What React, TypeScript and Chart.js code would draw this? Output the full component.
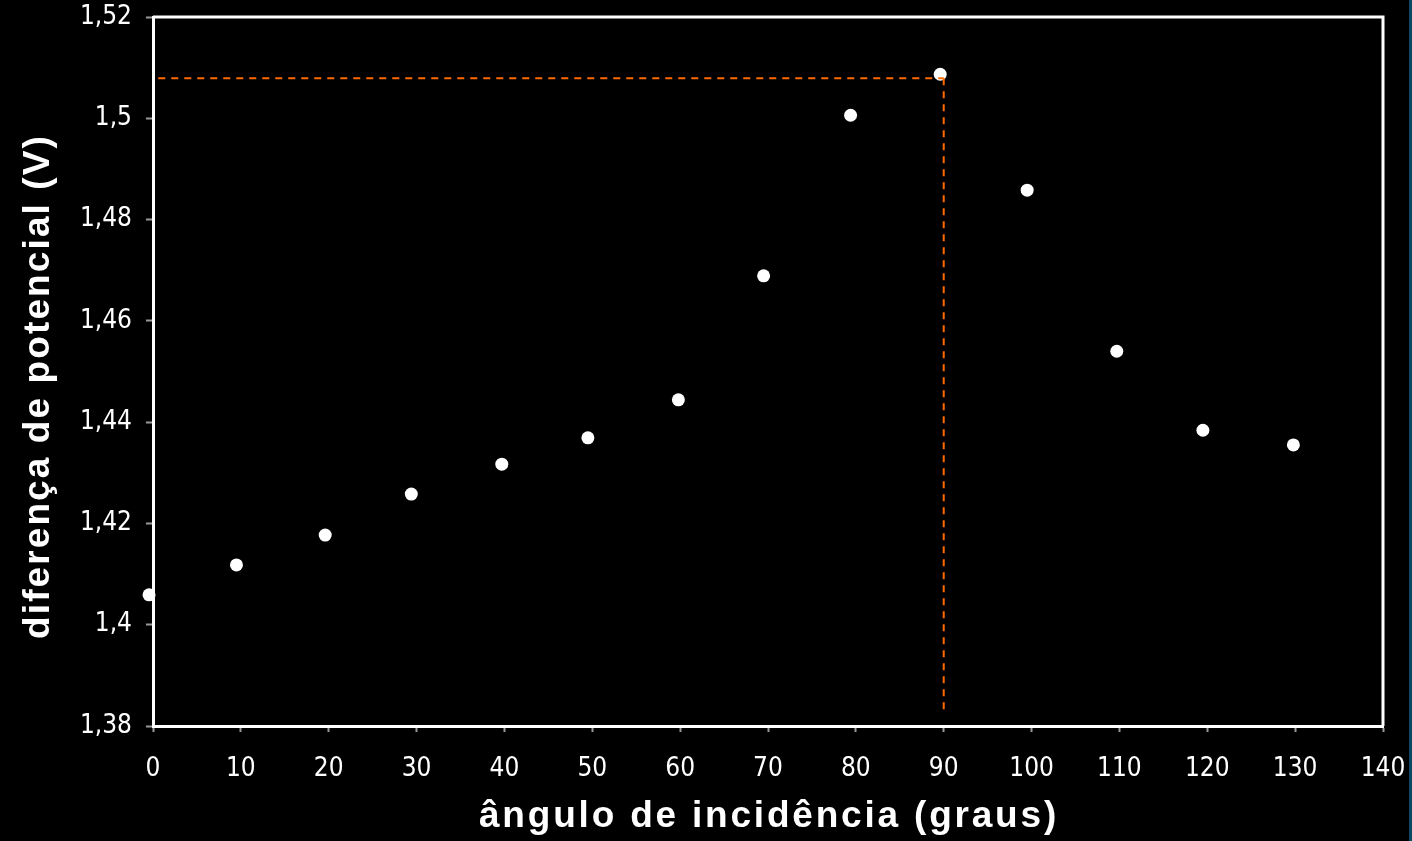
import React, { useEffect, useRef } from "react";
import { Chart, registerables } from "chart.js";

Chart.register(...registerables);

// Data
const angles: number[] = [-0.45, 9.5, 19.6, 29.4, 39.7, 49.5, 59.8, 69.5, 79.4, 89.6, 99.5, 109.7, 119.5, 129.8];
const voltages: number[] = [1.4059, 1.4118, 1.4177, 1.4258, 1.4317, 1.4369, 1.4444, 1.4689, 1.5006, 1.5087, 1.4858, 1.454, 1.4384, 1.4355];

const xTickValues: number[] = [0, 10, 20, 30, 40, 50, 60, 70, 80, 90, 100, 110, 120, 130, 140];
const yTickValues: number[] = [1.38, 1.4, 1.42, 1.44, 1.46, 1.48, 1.5, 1.52];

// Dashed guide lines (max marker)
const guideHorizontalX: number[] = [0.6, 90];
const guideHorizontalY: number[] = [1.5079, 1.5079];
const guideVerticalX: number[] = [90, 90];
const guideVerticalY: number[] = [1.5079, 1.3828];

const xTitle = "ângulo de incidência (graus)";
const yTitle = "diferença de potencial (V)";

const TICK_FONT = "'DejaVu Sans Condensed', 'DejaVu Sans', sans-serif";
const TITLE_FONT = "'Liberation Sans', Arial, sans-serif";

export default function App() {
  const canvasRef = useRef<HTMLCanvasElement | null>(null);

  useEffect(() => {
    const canvas = canvasRef.current;
    if (!canvas) return;

    const frame = {
      id: "frame",
      afterDraw(chart: any) {
        const { ctx, chartArea } = chart;
        ctx.save();
        ctx.strokeStyle = "#ffffff";
        ctx.lineWidth = 3;
        ctx.beginPath();
        ctx.moveTo(chartArea.left, chartArea.top);
        ctx.lineTo(chartArea.right, chartArea.top);
        ctx.lineTo(chartArea.right, chartArea.bottom);
        ctx.stroke();
        ctx.restore();
      },
    };

    const titles = {
      id: "spacedTitles",
      afterDraw(chart: any) {
        const { ctx, chartArea } = chart;
        ctx.save();
        ctx.fillStyle = "#ffffff";
        ctx.font = `bold 37px ${TITLE_FONT}`;
        ctx.textAlign = "center";
        ctx.textBaseline = "alphabetic";
        // x title
        try {
          (ctx as any).letterSpacing = "2.8px";
        } catch (e) {}
        ctx.fillText(xTitle, (chartArea.left + chartArea.right) / 2 + 1, 827);
        // y title
        try {
          (ctx as any).letterSpacing = "2.1px";
        } catch (e) {}
        ctx.translate(49, (chartArea.top + chartArea.bottom) / 2 + 15);
        ctx.rotate(-Math.PI / 2);
        ctx.fillText(yTitle, 0, 0);
        ctx.restore();
      },
    };

    const chart = new Chart(canvas, {
      type: "scatter",
      data: {
        datasets: [
          {
            label: "h",
            type: "line",
            data: guideHorizontalX.map((x, i) => ({ x, y: guideHorizontalY[i] })),
            borderColor: "#ff6a00",
            borderWidth: 2,
            borderDash: [7, 6],
            pointRadius: 0,
            fill: false,
          } as any,
          {
            label: "v",
            type: "line",
            data: guideVerticalX.map((x, i) => ({ x, y: guideVerticalY[i] })),
            borderColor: "#ff6a00",
            borderWidth: 2,
            borderDash: [7, 6],
            pointRadius: 0,
            fill: false,
          } as any,
          {
            label: "pts",
            data: angles.map((x, i) => ({ x, y: voltages[i] })),
            backgroundColor: "#ffffff",
            borderColor: "#ffffff",
            borderWidth: 0,
            pointRadius: 6.5,
            clip: false as any,
          },
        ],
      },
      options: {
        animation: false,
        responsive: false,
        maintainAspectRatio: false,
        layout: { padding: { top: 17, right: 29, left: 0, bottom: 0 } },
        plugins: {
          legend: { display: false },
          tooltip: { enabled: false },
        },
        scales: {
          x: {
            type: "linear",
            min: 0,
            max: 140,
            afterBuildTicks: (scale: any) => {
              scale.ticks = xTickValues.map((v) => ({ value: v }));
            },
            afterFit: (scale: any) => {
              scale.height = 115;
              scale.paddingLeft = 0;
              scale.paddingRight = 0;
              scale.paddingTop = 0;
              scale.paddingBottom = 0;
            },
            ticks: {
              color: "#ffffff",
              font: { family: TICK_FONT, size: 26 },
              padding: 22,
              maxRotation: 0,
              autoSkip: false,
              callback: (v: any) => String(v),
            },
            grid: {
              drawOnChartArea: false,
              drawTicks: true,
              tickLength: 6,
              tickColor: "#9a9a9a",
              tickWidth: 2,
            },
            border: { color: "#ffffff", width: 3 },
            title: { display: false },
          },
          y: {
            type: "linear",
            min: 1.38,
            max: 1.52,
            afterBuildTicks: (scale: any) => {
              scale.ticks = yTickValues.map((v) => ({ value: v }));
            },
            afterFit: (scale: any) => {
              scale.width = 153;
              scale.paddingLeft = 0;
              scale.paddingRight = 0;
              scale.paddingTop = 0;
              scale.paddingBottom = 0;
            },
            ticks: {
              color: "#ffffff",
              font: { family: TICK_FONT, size: 26 },
              padding: 14,
              autoSkip: false,
              callback: (v: any) => String(Number(Number(v).toFixed(2))).replace(".", ","),
            },
            grid: {
              drawOnChartArea: false,
              drawTicks: true,
              tickLength: 7,
              tickColor: "#9a9a9a",
              tickWidth: 2,
            },
            border: { color: "#ffffff", width: 3 },
            title: { display: false },
          },
        },
      },
      plugins: [frame, titles],
    });

    return () => chart.destroy();
  }, []);

  return (
    <div
      style={{
        position: "fixed",
        left: 0,
        top: 0,
        width: 1412,
        height: 841,
        background: "#000000",
        overflow: "hidden",
      }}
    >
      <canvas ref={canvasRef} width={1412} height={841} style={{ display: "block", width: 1412, height: 841 }} />
      <div style={{ position: "absolute", left: 1409, top: 0, width: 3, height: 841, background: "#0b4a62" }} />
    </div>
  );
}
